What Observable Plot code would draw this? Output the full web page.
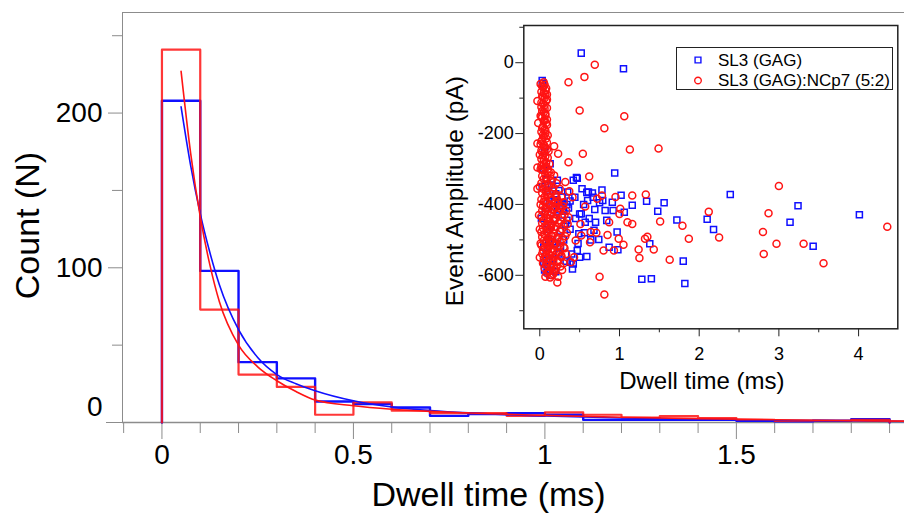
<!DOCTYPE html>
<html><head><meta charset="utf-8">
<script src="https://cdn.jsdelivr.net/npm/d3@7"></script>
<script src="https://cdn.jsdelivr.net/npm/@observablehq/plot@0.6"></script>
<style>
body{margin:0;background:#fff;}
#wrap{position:relative;width:904px;height:518px;font-family:"Liberation Sans",Arial,Helvetica,sans-serif;}
#wrap > svg{position:absolute;left:0;top:0;}
#legend{position:absolute;left:676px;top:47px;width:217px;height:43px;box-sizing:border-box;border:1.5px solid #222;background:#fff;}
#legend svg{position:absolute;left:0;top:0;}
</style></head>
<body><div id="wrap"><div id="legend"></div></div>
<script>
// ---------- main histogram data ----------
const binStart = [0,0.1,0.2,0.3,0.4,0.5,0.6,0.7,0.8,0.9,1.0,1.1,1.2,1.3,1.4,1.5,1.6,1.7,1.8];
const binWidth = 0.1;
const countBlue = [208,98,39,28.5,13.6,12,9.7,4.3,5.4,6,5,1.7,1.7,1.7,1.7,1.1,0.7,1.1,2.2];
const countRed  = [241,73,31,23,5,13,7.6,6,6,4.3,6.5,5,3.2,4.1,2.8,1.7,1.1,1.1,1.7];
// fitted decay curves
const fitX    = [0.05,0.075,0.1,0.125,0.15,0.2,0.25,0.3,0.35,0.4,0.5,0.6,0.7,0.8,0.9,1.0,1.2,1.4,1.6,1.8,1.94];
const fitBlue = [204,166,135,110,89,60,42,31,25,20.5,14,10,7.8,6.2,5,4.2,3,2.1,1.5,1.0,0.7];
const fitRed  = [227,174,133,102,78,50,36,27,20,14.5,10.8,8.6,7.2,6.2,5.3,4.6,3.4,2.5,1.8,1.2,0.9];
const xMajor = [0,0.5,1,1.5];
const xMinor = [-0.1,0.1,0.2,0.3,0.4,0.6,0.7,0.8,0.9,1.1,1.2,1.3,1.4,1.6,1.7,1.8,1.9];
const yMajor = [100,200];
const yMinor = [50,150,250];
const mainXDomain = [-0.103,1.939];
const mainYDomain = [0,265];

// ---------- inset scatter data ----------
const bluePoints = [
[0.52,27],[1.05,-17],[0.03,-50],[0.94,-311],[2.39,-372],[3.24,-404],[4.01,-429],[3.14,-450],[3.43,-518],
[2.10,-442],[2.18,-471],[1.72,-444],[1.80,-560],[1.82,-623],[1.28,-611],[1.40,-610],[1.56,-395],[1.48,-419],
[1.34,-391],[1.16,-402],[1.02,-374],[1.38,-511],[1.06,-422],[0.98,-528],[0.91,-394],[0.78,-359],[0.79,-389],
[0.69,-414],[0.60,-389],[0.59,-366],[0.66,-368],[0.53,-356],[0.47,-326],[0.42,-332],[0.50,-427],[0.57,-450],
[0.59,-547],[0.41,-582],[0.42,-568],[0.84,-445],[0.87,-521],[0.74,-499],[0.97,-478],[0.92,-417],[0.82,-417],
[0.68,-473],[0.47,-530],[0.49,-483],[0.34,-400],[0.28,-379],[0.30,-419],[0.34,-445],[0.05,-563],[0.09,-591],
[0.13,-285],[0.22,-332],[0.24,-361],[0.18,-389],[0.46,-324],[0.61,-365],[0.67,-380],[0.52,-426],[0.08,-558],
[0.125,-587],[0.38,-563],[0.50,-549],
[0.05,-300],[0.08,-330],[0.10,-360],[0.12,-390],[0.15,-345],[0.20,-370],[0.25,-395],[0.22,-420],[0.18,-440],
[0.28,-430],[0.14,-460],[0.26,-475],[0.32,-455],[0.36,-410],[0.38,-470],[0.11,-500],[0.20,-510],[0.30,-500],
[0.08,-540],[0.16,-555],[0.24,-540],[0.06,-585],[0.10,-575],[0.12,-560],[0.40,-540],[0.44,-380],[0.38,-390],
[0.35,-365],[0.45,-440],[0.55,-400],[0.62,-440],[0.70,-450],[0.75,-395],[0.64,-500],[0.56,-480],[0.48,-510],
[0.18,-415],[0.28,-395],[0.09,-470],[0.07,-420],[0.03,-350],[0.05,-520],[0.02,-440],[0.04,-58],[0.06,-250],
[0.16,-505],[0.26,-520],[0.33,-560],[0.20,-590],[0.14,-600]
];
const redPoints = [
[0.69,-6],[0.56,-40],[0.36,-55],[0.50,-135],[1.06,-151],[0.81,-185],[1.13,-245],[1.49,-242],[0.54,-257],
[0.18,-236],[0.23,-257],[0.36,-281],[0.62,-321],[3.00,-348],[2.12,-421],[2.87,-425],[4.36,-463],[1.79,-460],
[1.87,-497],[2.25,-493],[2.80,-478],[2.97,-511],[3.31,-511],[2.81,-540],[3.56,-566],[1.63,-556],[1.51,-448],
[1.33,-372],[1.16,-375],[0.95,-379],[0.78,-375],[1.32,-497],[1.35,-491],[1.43,-527],[1.24,-527],[1.25,-551],
[1.16,-455],[1.10,-450],[1.00,-427],[1.01,-412],[1.05,-514],[0.99,-497],[0.93,-530],[0.80,-530],[0.85,-486],
[0.87,-450],[0.71,-480],[0.63,-507],[0.75,-604],[0.81,-654],[0.57,-406],[0.52,-488],[0.51,-455],[0.43,-549],
[0.39,-563],[0.28,-585],[0.22,-620],[0.13,-606],[0.18,-587],[0.37,-363],[0.32,-337],[0.41,-380],[0.64,-478],
[0.72,-384],[0.36,-436],[0.45,-502],
[0.05,-55],[0.06,-62],[0.04,-70],[0.07,-78],[0.05,-85],[0.03,-95],[0.06,-100],[0.08,-108],[0.04,-115],
[0.02,-125],[0.06,-130],[0.05,-140],[0.07,-148],[0.03,-155],[0.05,-165],[0.08,-170],[0.04,-180],[0.06,-188],
[0.02,-195],[0.07,-200],[0.05,-210],[0.03,-218],[0.09,-225],[0.05,-232],[0.07,-240],[0.02,-248],[0.06,-255],
[0.04,-262],[0.10,-268],[0.05,-275],[0.08,-282],[0.02,-290],[0.06,-296],[0.04,-303],[0.11,-308],[0.07,-315],
[0.03,-320],[0.05,-328],[0.09,-334],[0.02,-340],[0.06,-346],[0.12,-350],[0.04,-356],[0.08,-362],[0.03,-368],
[0.10,-372],[0.06,-378],[0.14,-382],[0.02,-386],[0.05,-392],[0.09,-396],[0.12,-400],[0.04,-405],[0.07,-410],
[0.16,-413],[0.03,-418],[0.10,-422],[0.06,-426],[0.13,-430],[0.02,-434],[0.08,-438],[0.18,-441],[0.05,-445],
[0.11,-449],[0.03,-453],[0.15,-456],[0.07,-460],[0.20,-463],[0.04,-467],[0.12,-470],[0.09,-474],[0.02,-478],
[0.17,-481],[0.06,-485],[0.14,-488],[0.03,-492],[0.10,-496],[0.22,-498],[0.05,-502],[0.13,-505],[0.08,-509],
[0.19,-512],[0.02,-515],[0.11,-518],[0.06,-522],[0.16,-525],[0.04,-529],[0.09,-532],[0.24,-535],[0.03,-539],
[0.12,-542],[0.07,-546],[0.18,-549],[0.05,-553],[0.14,-557],[0.10,-561],[0.04,-566],[0.08,-571],[0.21,-575],
[0.06,-580],[0.12,-586],[0.09,-594],[0.15,-600],
[0.01,-60],[0.09,-90],[0.01,-150],[0.09,-160],[0.01,-230],[0.10,-205],[0.00,-260],[0.11,-250],[0.01,-300],
[0.00,-350],[0.01,-400],[-0.01,-430],[0.00,-470],[0.01,-510],[0.00,-550],[0.13,-320],[0.16,-360],[0.19,-395],
[0.23,-420],[0.26,-445],[0.28,-470],[0.25,-505],[0.30,-520],[0.27,-548],[0.22,-560],[0.32,-490],[0.35,-455],
[0.31,-430],[0.21,-380],[0.24,-405],[0.18,-530],[0.15,-500],[0.20,-440],[0.17,-415],[0.26,-575],[0.14,-575],
[0.33,-540],[0.29,-405],[-0.03,-108],[-0.03,-228],[-0.03,-296],[-0.03,-356],[-0.02,-170],
[0.03,-66],[0.08,-72],[0.02,-82],[0.07,-90],[0.04,-98],[0.09,-104],[0.02,-112],[0.06,-120],[0.09,-128],
[0.03,-136],[0.07,-144],[0.02,-152],[0.06,-160],[0.09,-176],[0.03,-184],[0.07,-192],[0.04,-204],[0.08,-214],
[0.02,-222],[0.06,-236],[0.09,-244],[0.03,-252],[0.07,-264],[0.02,-272],[0.05,-286],[0.08,-292],[0.03,-300],
[0.12,-286],[0.10,-300],
[0.14,-310],[0.18,-318],[0.08,-324],[0.15,-334],[0.21,-340],[0.11,-344],[0.17,-352],[0.25,-356],[0.08,-366],
[0.13,-370],[0.20,-374],[0.27,-378],[0.16,-386],[0.23,-390],[0.07,-392],[0.30,-394],[0.14,-402],[0.19,-408],
[0.26,-412],[0.09,-414],[0.33,-418],[0.15,-424],[0.21,-428],[0.28,-436],[0.12,-440],[0.17,-446],[0.24,-452],
[0.30,-458],[0.09,-462],[0.14,-466],[0.19,-470],[0.25,-476],[0.34,-480],[0.11,-484],[0.16,-490],[0.22,-494],
[0.28,-498],[0.08,-504],[0.13,-508],[0.19,-514],[0.25,-518],[0.31,-524],[0.10,-528],[0.15,-534],[0.21,-538],
[0.27,-544],[0.07,-548],[0.12,-552],[0.17,-558],[0.23,-562],[0.30,-566],[0.09,-572],[0.14,-578],[0.19,-582],
[0.11,-590],[0.17,-596],[0.23,-604],[0.07,-604]
];
const insetXMajor = [0,1,2,3,4];
const insetXMinor = [0.5,1.5,2.5,3.5];
const insetYMajor = [0,-200,-400,-600];
const insetYMinor = [100,-100,-300,-500,-700];
const insetXDomain = [-0.2007,4.492];
const insetYDomain = [-751,105];
const seriesNames = ["SL3 (GAG)","SL3 (GAG):NCp7 (5:2)"];
const seriesColors = ["#1010ff","#ff1414"];

// ---------- build tables ----------
function stepRows(counts){
  const last = counts.length - 1;
  const rows = [{x: binStart[0], y: 0}];
  counts.forEach((c,i) => rows.push({x: binStart[i], y: c}));
  rows.push({x: binStart[last] + binWidth, y: counts[last]});
  rows.push({x: binStart[last] + binWidth, y: 0});
  return rows;
}
const fitRows = (ys) => fitX.map((x,i) => ({x, y: ys[i]}));
const axisGray = "#8c8c8c";
const FONT = '"Liberation Sans",Arial,Helvetica,sans-serif';

const main = Plot.plot({
  width: 904, height: 518,
  marginLeft: 122, marginRight: 0, marginTop: 12, marginBottom: 96,
  style: {background: "transparent", fontFamily: FONT, overflow: "visible"},
  x: {domain: mainXDomain, label: null},
  y: {domain: mainYDomain, label: null},
  marks: [
    Plot.ruleY([mainYDomain[1]], {stroke: axisGray}),
    Plot.ruleX([mainXDomain[0]], {stroke: axisGray}),
    Plot.ruleY([0], {stroke: axisGray, strokeWidth: 1.5}),
    Plot.axisX(xMinor, {tickSize: 11, tickFormat: () => "", stroke: axisGray, label: null}),
    Plot.axisX(xMajor, {tickSize: 17, tickPadding: 5, fontSize: 28, tickFormat: d => String(d), stroke: axisGray, fill: "#000", label: null}),
    Plot.axisY(yMinor, {tickSize: 10, tickFormat: () => "", stroke: axisGray, label: null}),
    Plot.axisY(yMajor, {tickSize: 14, tickPadding: 6, fontSize: 28, tickFormat: d => String(d), stroke: axisGray, fill: "#000", label: null}),
    Plot.axisY([0], {tickSize: 16, tickFormat: () => "", stroke: axisGray, label: null}),
    Plot.text([0], {y: d => d, frameAnchor: "left", dx: -20, dy: -15, textAnchor: "end", text: d => String(d), fontSize: 28, fill: "#000"}),
    Plot.line(stepRows(countBlue), {x: "x", y: "y", curve: "step-after", stroke: seriesColors[0], strokeWidth: 2.4}),
    Plot.line(stepRows(countRed), {x: "x", y: "y", curve: "step-after", stroke: seriesColors[1], strokeWidth: 2.2, strokeOpacity: 0.85}),
    Plot.line(fitRows(fitBlue), {x: "x", y: "y", curve: "monotone-x", stroke: seriesColors[0], strokeWidth: 1.6}),
    Plot.line(fitRows(fitRed), {x: "x", y: "y", curve: "monotone-x", stroke: seriesColors[1], strokeWidth: 1.6}),
    Plot.text(["Count (N)"], {frameAnchor: "left", dx: -94, dy: 8, rotate: -90, textAnchor: "middle", text: d => d, fontSize: 34, fill: "#000"}),
    Plot.text(["Dwell time (ms)"], {frameAnchor: "bottom", dx: -25, dy: 83, textAnchor: "middle", text: d => d, fontSize: 34, fill: "#000"})
  ]
});

const inset = Plot.plot({
  width: 904, height: 518,
  marginLeft: 523.3, marginRight: 6.7, marginTop: 25, marginBottom: 189.7,
  style: {background: "transparent", fontFamily: FONT, overflow: "visible"},
  x: {domain: insetXDomain, label: null},
  y: {domain: insetYDomain, label: null},
  marks: [
    Plot.dot(bluePoints, {x: d => d[0], y: d => d[1], symbol: "square", r: 3.4, stroke: seriesColors[0], strokeWidth: 1.5, fill: "none"}),
    Plot.dot(redPoints, {x: d => d[0], y: d => d[1], symbol: "circle", r: 3.5, stroke: seriesColors[1], strokeWidth: 1.5, fill: "none"}),
    Plot.frame({stroke: "#222", strokeWidth: 1.5}),
    Plot.axisX(insetXMinor, {tickSize: 4, tickFormat: () => "", stroke: "#222", label: null}),
    Plot.axisX(insetXMajor, {tickSize: 8, tickPadding: 10, fontSize: 18, tickFormat: d => String(d), stroke: "#222", fill: "#000", label: null}),
    Plot.axisY(insetYMinor, {tickSize: 4, tickFormat: () => "", stroke: "#222", label: null}),
    Plot.axisY(insetYMajor, {tickSize: 8, tickPadding: 2, fontSize: 18, tickFormat: d => String(d), stroke: "#222", fill: "#000", label: null}),
    Plot.text(["Event Amplitude (pA)"], {frameAnchor: "left", dx: -69, dy: 14, rotate: -90, textAnchor: "middle", text: d => d, fontSize: 24.5, fill: "#000"}),
    Plot.text(["Dwell time (ms)"], {frameAnchor: "bottom", dx: -9, dy: 60, textAnchor: "middle", text: d => d, fontSize: 24, fill: "#000"})
  ]
});

const wrap = document.getElementById("wrap");
wrap.insertBefore(main, wrap.firstChild);
wrap.insertBefore(inset, document.getElementById("legend"));

// legend
const leg = d3.select("#legend").append("svg").attr("width", 217).attr("height", 43)
  .style("font-family", FONT);
const items = leg.selectAll("g").data(seriesNames).join("g")
  .attr("transform", (d, i) => `translate(0,${i === 0 ? 12 : 32.5})`);
items.append("path")
  .attr("transform", "translate(21,0)")
  .attr("d", (d, i) => d3.symbol(i === 0 ? d3.symbolSquare : d3.symbolCircle, 34)())
  .attr("fill", "none").attr("stroke", (d, i) => seriesColors[i]).attr("stroke-width", 1.4);
items.append("text").attr("x", 41).attr("dy", "0.35em").attr("font-size", 17).attr("fill", "#000").text(d => d);
</script>
</body></html>
